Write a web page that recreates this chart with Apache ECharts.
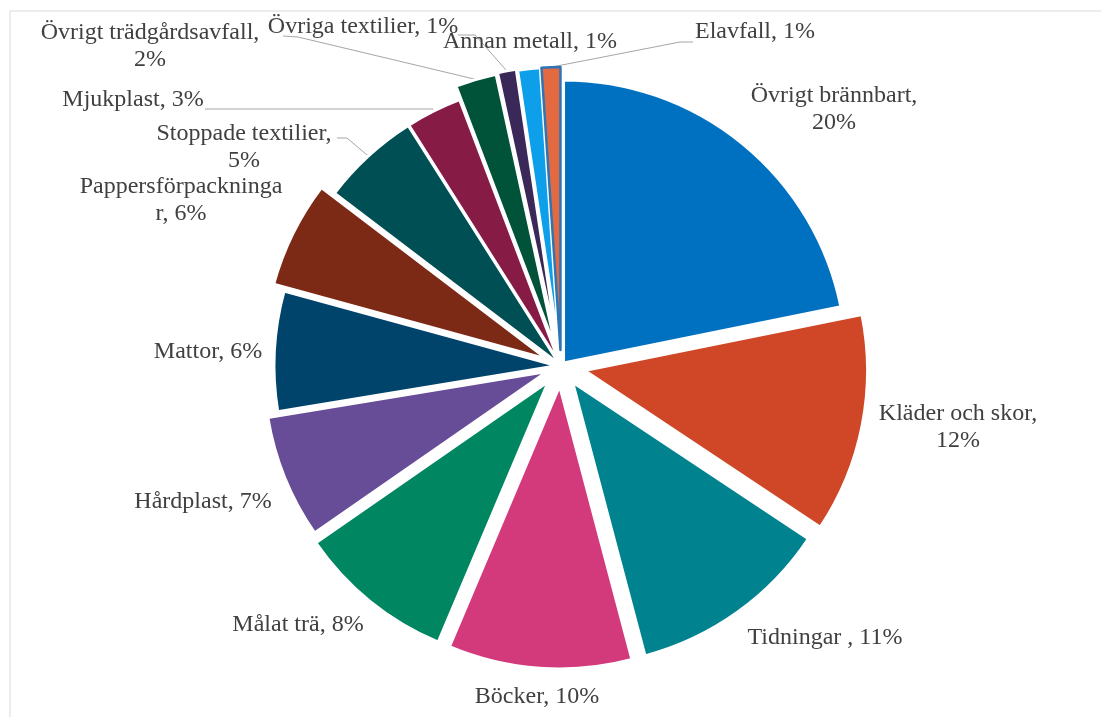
<!DOCTYPE html>
<html>
<head>
<meta charset="utf-8">
<script src="https://cdn.jsdelivr.net/npm/echarts@6/dist/echarts.min.js"></script>
<style>
html, body { margin: 0; padding: 0; background: #fff; }
#main { width: 1101px; height: 717px; }
</style>
</head>
<body>
<div id="main"></div>
<script>
// avfallsfraktioner och deras andel (procent)
const names = ['Övrigt brännbart', 'Kläder och skor', 'Tidningar ', 'Böcker', 'Målat trä', 'Hårdplast',
  'Mattor', 'Pappersförpackningar', 'Stoppade textilier', 'Mjukplast', 'Övrigt trädgårdsavfall',
  'Övriga textilier', 'Annan metall', 'Elavfall'];
const values = [20.4, 11.7, 10.8, 9.8, 8.4, 6.6, 6.4, 5.7, 5.3, 3.0, 2.2, 1.0, 1.2, 1.0];
const colors = ['#0070c0', '#d04727', '#00828f', '#d33a7b', '#008762', '#674c97',
  '#00446c', '#7c2a16', '#004f54', '#861b46', '#005239', '#3a2858', '#0d9fe9', '#e36a40'];
// hur långt varje bit är utdragen (px)
const explodeBy = [4, 24, 20, 20, 20, 15, 4, 16, 2, 2, 16, 17, 16, 16];

// var etiketterna står (mitten av textblocket) och var raden bryts
const labelSpots = [[834, 109], [958, 427], [825, 638], [537, 697], [298, 625], [203, 502], [208, 352],
  [181, 200], [244, 147], [133, 100], [150, 46], [363, 27], [530, 42], [755, 32]];
const labelBreaks = ['comma', 'comma', null, null, null, null, null, 19, 'comma', null, 'comma', null, null, null];
// hänvisningslinjer: punkterna vid etiketten
const leaders = {
  8: [[347, 138], [337, 138]],
  9: [[433, 109], [205, 109]],
  10: [[298, 37], [283, 36]],
  11: [[475, 35], [458, 35]],
  13: [[680, 42], [693, 42]]
};

const center = [561, 366];
const radius = 283;

function labelText(i) {
  const text = names[i] + ', ' + Math.round(values[i]) + '%';
  const cut = labelBreaks[i];
  if (cut === 'comma') return text.replace(', ', ',\n');
  if (cut) return text.slice(0, cut) + '\n' + text.slice(cut);
  return text;
}

// en serie per bit, så att varje bit kan dras ut olika långt
function sliceSeries(k) {
  const data = names.map(function (n, j) {
    if (j !== k) {
      return { name: n, value: values[j], itemStyle: { color: 'rgba(0,0,0,0)', borderWidth: 0 } };
    }
    const style = { color: colors[j], borderColor: '#fff', borderWidth: 3 };
    if (n === 'Elavfall') {
      style.borderColor = '#2e75b6';
      style.borderWidth = 2.5;
    }
    return { name: n, value: values[j], selected: true, itemStyle: style, select: { itemStyle: style } };
  });
  return {
    type: 'pie',
    center: center,
    radius: [0, radius],
    startAngle: 90,
    selectedMode: 'multiple',
    selectedOffset: explodeBy[k],
    silent: true,
    emphasis: { disabled: true },
    label: { show: false },
    labelLine: { show: false },
    data: data
  };
}

const series = names.map(function (n, k) { return sliceSeries(k); });

// osynlig kopia som bara bär etiketterna
series.push({
  type: 'pie',
  center: center,
  radius: [0, radius],
  startAngle: 90,
  silent: true,
  avoidLabelOverlap: false,
  itemStyle: { color: 'rgba(0,0,0,0)', borderWidth: 0 },
  emphasis: { disabled: true },
  label: {
    show: true,
    position: 'outside',
    formatter: function (p) { return labelText(p.dataIndex); },
    fontFamily: 'Liberation Serif',
    fontSize: 24,
    lineHeight: 27,
    color: '#404040',
    align: 'center'
  },
  labelLine: {
    lineStyle: { color: '#a6a6a6', width: 1 },
    smooth: false
  },
  labelLayout: function (params) {
    const i = params.dataIndex;
    const spot = labelSpots[i];
    const out = { x: spot[0], y: spot[1], align: 'center', verticalAlign: 'middle' };
    if (leaders[i] && params.labelLinePoints) {
      const p0 = params.labelLinePoints[0];
      const dx = p0[0] - center[0];
      const dy = p0[1] - center[1];
      const len = Math.sqrt(dx * dx + dy * dy) || 1;
      const edge = [p0[0] + dx / len * explodeBy[i], p0[1] + dy / len * explodeBy[i]];
      out.labelLinePoints = [edge].concat(leaders[i]);
    }
    return out;
  },
  data: names.map(function (n, i) {
    return { name: n, value: values[i], labelLine: { show: !!leaders[i] } };
  })
});

const chart = echarts.init(document.getElementById('main'));
chart.setOption({
  backgroundColor: '#fff',
  animation: false,
  graphic: [{
    type: 'rect',
    shape: { x: 10, y: 11, width: 1200, height: 900 },
    style: { fill: 'none', stroke: '#d9d9d9', lineWidth: 1 },
    silent: true
  }],
  series: series
});
</script>
</body>
</html>
